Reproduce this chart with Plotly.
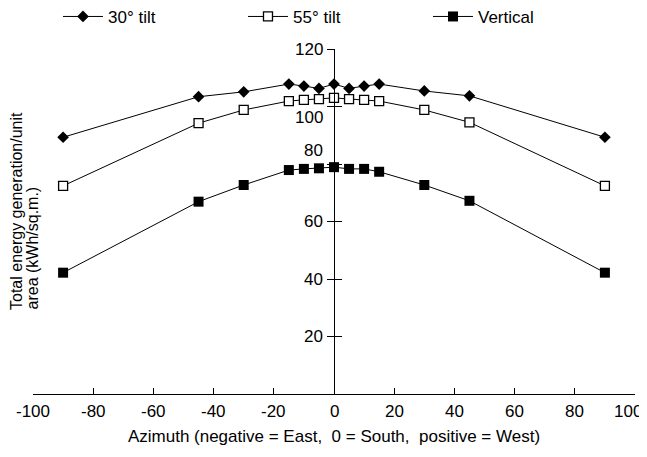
import plotly.graph_objects as go

azimuth = [-90, -45, -30, -15, -10, -5, 0, 5, 10, 15, 30, 45, 90]
tilt30 = [89.3, 103.4, 105.1, 107.8, 107.1, 106.3, 107.8, 106.3, 107.1, 107.8, 105.4, 103.7, 89.3]
tilt55 = [72.4, 94.2, 98.8, 101.9, 102.3, 102.6, 103.0, 102.6, 102.3, 101.9, 98.8, 94.5, 72.4]
vertical = [42.2, 66.9, 72.7, 77.9, 78.3, 78.5, 78.9, 78.3, 78.3, 77.3, 72.7, 67.2, 42.2]

x_ticks = [-100, -80, -60, -40, -20, 0, 20, 40, 60, 80, 100]
x_tick_labels = ["-100", "-80", "-60", "-40", "-20", "0", "20", "40", "60", "80", "100"]
y_ticks = [20, 40, 60, 80, 100, 120]
y_tick_labels = ["20", "40", "60", "80", "100", "120"]

FONT = "Liberation Sans, Arial, sans-serif"
BLACK = "black"

fig = go.Figure()
fig.add_trace(go.Scatter(
    x=azimuth, y=tilt30, name="30° tilt", mode="lines+markers",
    line=dict(color=BLACK, width=1),
    marker=dict(symbol="diamond", size=9, color=BLACK)))
fig.add_trace(go.Scatter(
    x=azimuth, y=tilt55, name="55° tilt", mode="lines+markers",
    line=dict(color=BLACK, width=1),
    marker=dict(symbol="square", size=9, color="white", line=dict(color=BLACK, width=1.3))))
fig.add_trace(go.Scatter(
    x=azimuth, y=vertical, name="Vertical", mode="lines+markers",
    line=dict(color=BLACK, width=1),
    marker=dict(symbol="square", size=10, color=BLACK)))
# helper empty trace so the overlay axis (inner half of crossing ticks) is drawn
fig.add_trace(go.Scatter(x=[], y=[], yaxis="y2", showlegend=False, hoverinfo="skip"))

annotations = []
# y tick labels beside the central axis (100 and 80 nudged clear of the data, as in the original)
label_shift = {100: -11, 80: 14}
for v, lab in zip(y_ticks, y_tick_labels):
    annotations.append(dict(
        x=0, y=v, xref="x", yref="y", text=lab, showarrow=False,
        xanchor="right", yanchor="middle", xshift=-9, yshift=label_shift.get(v, 0),
        font=dict(size=17, family=FONT, color=BLACK)))

# x tick labels (the last one is kept inside the page edge)
for v, lab in zip(x_ticks, x_tick_labels):
    at_edge = v == x_ticks[-1]
    annotations.append(dict(
        x=v, y=0, xref="x", yref="paper", text=lab, showarrow=False,
        xanchor="right" if at_edge else "center", xshift=9 if at_edge else 0,
        yanchor="middle", yshift=-17,
        font=dict(size=17, family=FONT, color=BLACK)))

annotations.append(dict(
    x=0, y=0.2377, xref="paper", yref="paper", xshift=-16,
    text="Total energy generation/unit", textangle=-90, showarrow=False,
    xanchor="center", yanchor="bottom", font=dict(size=16, family=FONT, color=BLACK)))
annotations.append(dict(
    x=0, y=0.2377, xref="paper", yref="paper", xshift=-1,
    text="area (kWh/sq.m.)", textangle=-90, showarrow=False,
    xanchor="center", yanchor="bottom", font=dict(size=16, family=FONT, color=BLACK)))

# page body has an 8px margin: figure is shrunk by 8px and margins shifted
fig.update_layout(
    width=639, height=449,
    margin=dict(l=25, r=12, t=41, b=63, autoexpand=False),
    plot_bgcolor="white", paper_bgcolor="white",
    font=dict(family=FONT, size=17, color=BLACK),
    showlegend=True,
    legend=dict(
        orientation="h", x=0.0415, y=1.093, xanchor="left", yanchor="middle",
        itemwidth=40, entrywidth=130, entrywidthmode="pixels",
        font=dict(size=17, family=FONT, color=BLACK), bgcolor="rgba(0,0,0,0)"),
    xaxis=dict(
        range=[-100, 100], tickvals=x_ticks, ticks="inside", ticklen=6,
        tickcolor=BLACK, tickwidth=1, showline=True, linecolor=BLACK, linewidth=1,
        showgrid=False, zeroline=False, showticklabels=False,
        title=dict(text="Azimuth (negative = East,  0 = South,  positive = West)",
                   font=dict(size=17), standoff=36)),
    yaxis=dict(
        range=[0, 120], anchor="free", position=0.5, tickvals=y_ticks,
        ticks="outside", ticklen=7, tickcolor=BLACK, tickwidth=1,
        showline=True, linecolor=BLACK, linewidth=1,
        showticklabels=False, showgrid=False, zeroline=False),
    yaxis2=dict(
        range=[0, 120], overlaying="y", anchor="free", position=0.5,
        tickvals=y_ticks, ticks="inside", ticklen=7, tickcolor=BLACK, tickwidth=1,
        showline=False, showticklabels=False, showgrid=False, zeroline=False),
    annotations=annotations,
)

fig.write_html("out.html")
